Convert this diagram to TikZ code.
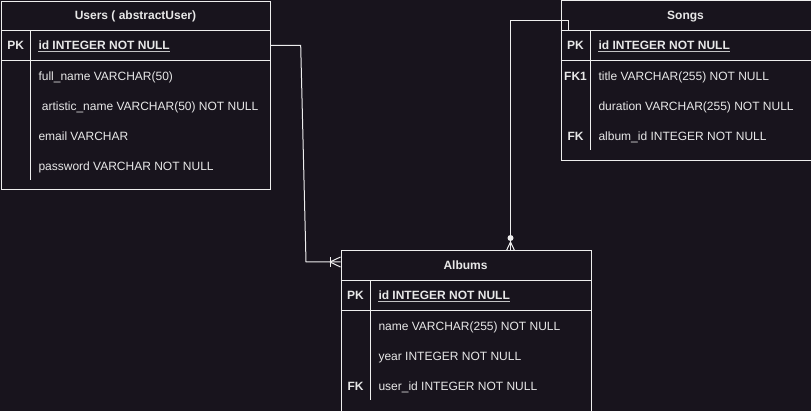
\documentclass[tikz,border=0pt]{standalone}
\usepackage{fontspec}
\setmainfont{Liberation Sans}
\definecolor{bg}{RGB}{24,20,29}
\definecolor{ln}{RGB}{238,238,238}
\definecolor{tx}{RGB}{232,232,232}
\begin{document}
\begin{tikzpicture}[x=1pt,y=-1pt,
  tbl/.style={draw=ln, line width=1pt, anchor=north west, inner sep=0pt},
  hd/.style={text=tx, font=\fontsize{12}{14}\selectfont\bfseries, inner sep=0pt, anchor=base},
  keylbl/.style={text=tx, font=\fontsize{12}{14}\selectfont\bfseries, inner sep=0pt, anchor=base},
  fld/.style={text=tx, font=\fontsize{12}{14}\selectfont, anchor=base west, inner sep=0pt},
  pkf/.style={fld, font=\fontsize{12}{14}\selectfont\bfseries},
  sep/.style={draw=ln, line width=1pt},
  uline/.style={draw=ln!80!bg, line width=1pt},
  conn/.style={draw=ln, line width=1pt, line join=miter}]
\fill[bg] (0,0) rectangle (811,411);
\useasboundingbox (0,0) rectangle (811,411);

% ---------- Users ----------
\node[tbl, minimum width=269pt, minimum height=188.5pt] (users) at (1,1) {};
\draw[sep] (1,30.5) -- (270,30.5);
\draw[sep] (1,60.5) -- (270,60.5);
\draw[sep] (30.5,30.5) -- (30.5,180);
\node[hd] (usersH) at (135.5,20) {Users ( abstractUser)};
\node[keylbl] (uPKl) at (15.7,50) {PK};
\node[pkf] (uPK) at (38.3,50) {id INTEGER NOT NULL};
\draw[uline] ([yshift=-2pt]uPK.base west) -- ([yshift=-2pt]uPK.base east);
\node[fld] (u1) at (38.3,80.5) {full\_name VARCHAR(50)};
\node[fld] (u2) at (38.3,110.5) {\ artistic\_name VARCHAR(50) NOT NULL};
\node[fld] (u3) at (38.3,140.5) {email VARCHAR};
\node[fld] (u4) at (38.3,170.5) {password VARCHAR NOT NULL};

% ---------- Songs ----------
\node[tbl, minimum width=250pt, minimum height=159.5pt] (songs) at (560.5,0.5) {};
\draw[sep] (560.5,30.5) -- (810.5,30.5);
\draw[sep] (560.5,60.5) -- (810.5,60.5);
\draw[sep] (590.5,30.5) -- (590.5,150);
\node[hd] (songsH) at (685.5,20) {Songs};
\node[keylbl] (sPKl) at (575.5,50) {PK};
\node[pkf] (sPK) at (598.3,50) {id INTEGER NOT NULL};
\draw[uline] ([yshift=-2pt]sPK.base west) -- ([yshift=-2pt]sPK.base east);
\node[keylbl] (sFK1) at (575.5,80.5) {FK1};
\node[fld] (s1) at (598.3,80.5) {title VARCHAR(255) NOT NULL};
\node[fld] (s2) at (598.3,110.5) {duration VARCHAR(255) NOT NULL};
\node[keylbl] (sFK) at (575.5,140.5) {FK};
\node[fld] (s3) at (598.3,140.5) {album\_id INTEGER NOT NULL};

% ---------- Albums ----------
\node[tbl, minimum width=250pt, minimum height=160pt] (albums) at (340.5,250.5) {};
\draw[sep] (340.5,280.5) -- (590.5,280.5);
\draw[sep] (340.5,310.5) -- (590.5,310.5);
\draw[sep] (370.5,280.5) -- (370.5,400);
\node[hd] (albumsH) at (465.5,270) {Albums};
\node[keylbl] (aPKl) at (355.5,300) {PK};
\node[pkf] (aPK) at (378.3,300) {id INTEGER NOT NULL};
\draw[uline] ([yshift=-2pt]aPK.base west) -- ([yshift=-2pt]aPK.base east);
\node[fld] (a1) at (378.3,330.5) {name VARCHAR(255) NOT NULL};
\node[fld] (a2) at (378.3,360.5) {year INTEGER NOT NULL};
\node[keylbl] (aFK) at (355.5,390.5) {FK};
\node[fld] (a3) at (378.3,390.5) {user\_id INTEGER NOT NULL};

% ---------- Connectors ----------
\coordinate (uOut) at (270,45.5);
\coordinate (aIn) at (340.5,262);
\draw[conn] (uOut) -- (300.7,45.5) -- (306,262) -- (aIn);
% one-or-many marker at Albums
\draw[conn] (330,257) -- (330,267);
\draw[conn] (330,262) -- (340.5,257);
\draw[conn] (330,262) -- (340.5,267);

\coordinate (sOut) at (568.3,30.5);
\coordinate (aTop) at (510.5,250.5);
\draw[conn] (sOut) -- (568.3,20.7) -- (510.5,20.7) -- (aTop);
% zero-or-many marker at Albums
\fill[ln] (510.5,238) circle (3pt);
\draw[conn] (510.5,242) -- (506.5,250.5);
\draw[conn] (510.5,242) -- (514.5,250.5);
\end{tikzpicture}
\end{document}
